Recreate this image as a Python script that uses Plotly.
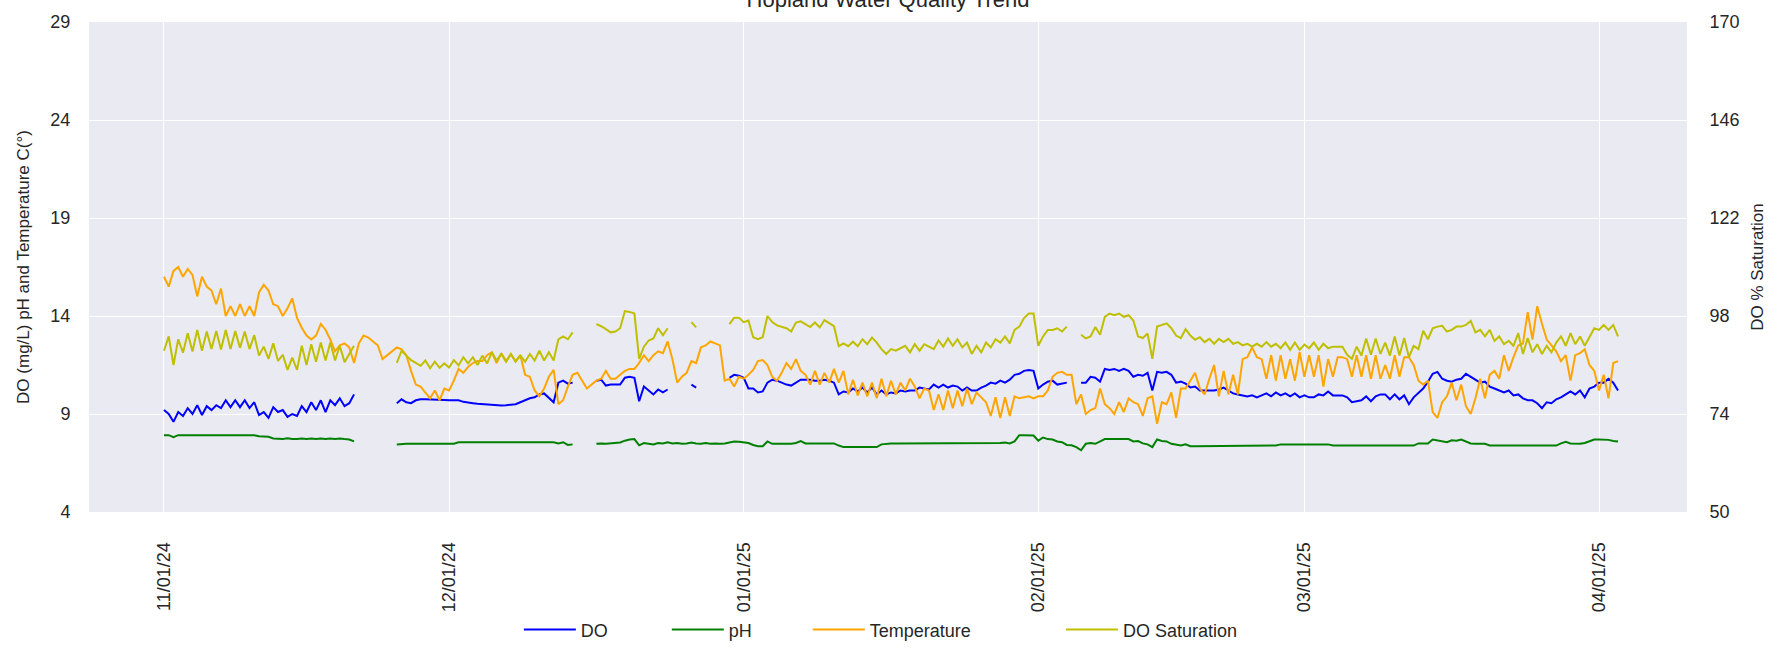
import plotly.graph_objects as go
import pandas as pd

N = None

# 12-hourly readings starting 2024-11-01 00:00 (two values per day, rows of 5 days)
temperature = [
    16.0, 15.5, 16.3, 16.5, 16.0, 16.4, 16.1, 15.0, 16.0, 15.5,
    15.3, 14.6, 15.4, 14.0, 14.5, 14.0, 14.6, 14.0, 14.5, 14.0,
    15.2, 15.6, 15.3, 14.6, 14.5, 14.0, 14.4, 14.9, 13.9, 13.4,
    13.0, 12.8, 13.0, 13.6, 13.3, 12.8, 12.2, 12.5, 12.6, 12.4,
    11.6, 12.6, 13.0, 12.9, 12.7, 12.5, 11.8, 12.0, 12.2, 12.4,
    12.3, 12.0, 11.2, 10.5, 10.4, 10.1, 9.8, 10.2, 9.7, 10.3,
    10.2, 10.7, 11.3, 11.1, 11.4, 11.6, 11.7, 11.7, 12.0, 12.15,
    11.6, 12.1, 11.7, 12.05, 11.7, 12.0, 11.0, 10.9, 10.2, 9.9,
    10.3, 10.9, 11.25, 9.5, 9.7, 10.4, 11.0, 11.1, 10.7, 10.3,
    10.5, 10.7, 10.8, 11.2, 10.8, 10.8, 11.0, 11.2, 11.3, 11.3,
    11.6, 12.0, 11.7, 12.0, 12.2, 12.1, 12.7, 11.8, 10.6, 10.9,
    11.1, 11.7, 11.6, 12.4, 12.5, 12.7, 12.6, 12.5, 10.7, 10.8,
    10.4, 10.9, 10.8, 11.0, 11.25, 11.7, 11.75, 11.5, 10.9, 10.7,
    11.1, 11.6, 11.3, 11.8, 11.2, 11.0, 10.5, 11.2, 10.5, 11.1,
    10.6, 11.3, 10.6, 11.2, 10.0, 10.75, 9.95, 10.6, 9.9, 10.6,
    9.8, 10.8, 9.9, 10.7, 10.0, 10.6, 10.2, 10.8, 10.4, 9.8,
    10.3, 10.2, 9.2, 10.0, 9.2, 10.2, 9.3, 10.2, 9.4, 10.3,
    9.5, 10.1, 9.85, 9.6, 8.9, 9.85, 8.8, 9.85, 8.9, 9.9,
    9.8, 9.85, 9.9, 9.8, 9.9, 9.9, 10.2, 10.9, 11.1, 11.15,
    11.0, 11.0, 9.5, 10.0, 9.0, 9.2, 9.3, 10.3, 9.5, 9.3,
    9.0, 9.6, 9.1, 9.8, 9.6, 9.5, 8.9, 9.8, 9.9, 8.5,
    9.6, 9.5, 10.1, 8.8, 10.3, 10.3, 10.7, 11.1, 10.3, 10.0,
    10.8, 11.5, 9.9, 11.2, 10.0, 11.0, 10.0, 11.8, 11.9, 12.4,
    11.9, 11.8, 10.8, 12.0, 10.7, 12.0, 10.8, 11.8, 10.7, 12.15,
    10.9, 12.0, 10.9, 12.0, 10.4, 11.8, 10.9, 11.9, 11.9, 11.8,
    10.9, 12.0, 10.9, 12.0, 10.8, 12.0, 10.8, 11.5, 10.8, 12.0,
    10.9, 11.9, 11.9, 11.5, 10.7, 10.5, 10.7, 9.1, 8.8, 9.6,
    9.9, 10.6, 9.7, 10.5, 9.4, 9.0, 9.8, 10.8, 9.8, 11.0,
    11.2, 10.8, 12.0, 11.2, 11.9, 12.5, 12.6, 14.2, 12.8, 14.5,
    13.6, 12.8, 12.5, 12.2, 11.7, 12.0, 10.7, 12.0, 12.1, 12.3,
    11.5, 11.2, 10.2, 11.0, 9.8, 11.6, 11.7,
]

do_mgl = [
    9.2, 9.0, 8.6, 9.1, 8.9, 9.3, 9.0, 9.45, 8.95, 9.4,
    9.2, 9.45, 9.3, 9.7, 9.35, 9.7, 9.35, 9.7, 9.3, 9.6,
    8.95, 9.1, 8.8, 9.35, 9.1, 9.2, 8.85, 9.0, 8.9, 9.4,
    9.1, 9.6, 9.2, 9.7, 9.1, 9.7, 9.45, 9.8, 9.4, 9.55,
    10.0, N, N, N, N, N, N, N, N, 9.55,
    9.75, 9.6, 9.55, 9.7, 9.75, 9.75, 9.75, 9.75, 9.75, 9.72,
    9.7, 9.7, 9.7, 9.62, 9.6, 9.55, 9.52, 9.5, 9.48, 9.45,
    9.45, 9.44, 9.45, 9.47, 9.5, 9.6, 9.72, 9.8, 9.85, 10.0,
    10.05, 9.85, 9.6, 10.6, 10.7, 10.55, 10.6, N, N, N,
    N, 10.7, 10.75, 10.45, 10.5, 10.5, 10.5, 10.85, 10.9, 10.85,
    9.65, 10.4, 10.2, 10.0, 10.25, 10.1, 10.25, N, N, N,
    N, 10.5, 10.35, N, N, N, N, N, N, 10.84,
    11.0, 10.95, 10.85, 10.3, 10.3, 10.1, 10.15, 10.6, 10.75, 10.7,
    10.6, 10.5, 10.45, 10.6, 10.75, 10.75, 10.75, 10.7, 10.7, 10.75,
    10.7, 10.6, 10.0, 10.15, 10.1, 10.3, 10.15, 10.35, 10.1, 10.35,
    10.0, 10.2, 10.0, 10.1, 10.05, 10.2, 10.15, 10.2, 10.2, 10.35,
    10.3, 10.25, 10.5, 10.35, 10.5, 10.35, 10.45, 10.4, 10.2, 10.35,
    10.2, 10.2, 10.35, 10.45, 10.6, 10.55, 10.7, 10.6, 10.75, 11.0,
    11.05, 11.2, 11.25, 11.2, 10.3, 10.5, 10.65, 10.7, 10.5, 10.55,
    10.6, N, N, 10.6, 10.6, 10.9, 10.85, 10.65, 11.3, 11.25,
    11.3, 11.2, 11.3, 11.2, 10.9, 11.0, 10.95, 11.1, 10.2, 11.15,
    11.1, 11.15, 11.0, 10.6, 10.65, 10.55, 10.35, 10.4, 10.2, 10.2,
    10.2, 10.2, 10.25, 10.35, 10.2, 10.05, 10.0, 9.95, 9.9, 9.95,
    9.85, 9.95, 10.05, 9.9, 10.1, 9.95, 10.05, 9.9, 10.05, 9.85,
    9.95, 9.85, 9.85, 10.0, 9.95, 10.15, 9.95, 9.95, 9.95, 9.85,
    9.6, 9.65, 9.7, 9.9, 9.65, 9.9, 10.0, 10.0, 9.75, 10.0,
    9.75, 9.95, 9.5, 9.85, 10.1, 10.3, 10.65, 11.05, 11.15, 10.8,
    10.7, 10.65, 10.75, 10.8, 11.05, 10.9, 10.75, 10.6, 10.65, 10.4,
    10.3, 10.2, 10.1, 10.2, 9.95, 10.0, 9.8, 9.7, 9.7, 9.55,
    9.3, 9.6, 9.55, 9.75, 9.85, 10.0, 10.15, 10.0, 10.2, 9.85,
    10.3, 10.4, 10.6, 10.6, 10.8, 10.6, 10.2,
]

ph = [
    7.92, 7.92, 7.82, 7.92, 7.92, 7.92, 7.92, 7.92, 7.92, 7.92,
    7.92, 7.92, 7.92, 7.92, 7.92, 7.92, 7.95, 7.92, 7.92, 7.92,
    7.86, 7.85, 7.84, 7.75, 7.74, 7.72, 7.76, 7.72, 7.72, 7.75,
    7.72, 7.75, 7.72, 7.75, 7.72, 7.75, 7.72, 7.75, 7.72, 7.7,
    7.6, N, N, N, N, N, N, N, N, 7.45,
    7.48, 7.48, 7.48, 7.48, 7.48, 7.48, 7.48, 7.48, 7.48, 7.48,
    7.48, 7.48, 7.56, 7.56, 7.56, 7.56, 7.56, 7.56, 7.56, 7.56,
    7.56, 7.56, 7.56, 7.56, 7.56, 7.56, 7.56, 7.56, 7.56, 7.56,
    7.56, 7.56, 7.56, 7.5, 7.56, 7.42, 7.45, N, N, N,
    N, 7.48, 7.5, 7.48, 7.5, 7.52, 7.55, 7.64, 7.7, 7.72,
    7.4, 7.52, 7.5, 7.45, 7.52, 7.5, 7.56, 7.5, 7.52, 7.48,
    7.5, 7.54, 7.5, 7.48, 7.52, 7.48, 7.5, 7.48, 7.5, 7.56,
    7.6, 7.58, 7.56, 7.52, 7.42, 7.36, 7.36, 7.6, 7.48, 7.48,
    7.48, 7.48, 7.48, 7.52, 7.62, 7.5, 7.5, 7.5, 7.5, 7.5,
    7.5, 7.5, 7.39, 7.31, 7.31, 7.31, 7.31, 7.31, 7.31, 7.31,
    7.31, 7.45, 7.48, 7.5, 7.5, 7.5, 7.5, 7.5, 7.5, 7.5,
    7.5, 7.5, 7.5, 7.5, 7.5, 7.5, 7.5, 7.5, 7.5, 7.5,
    7.5, 7.5, 7.5, 7.5, 7.5, 7.5, 7.52, 7.55, 7.5, 7.6,
    7.92, 7.92, 7.92, 7.9, 7.64, 7.8, 7.72, 7.7, 7.6, 7.56,
    7.42, 7.4, 7.31, 7.15, 7.48, 7.52, 7.48, 7.6, 7.72, 7.72,
    7.72, 7.72, 7.72, 7.72, 7.6, 7.62, 7.5, 7.45, 7.31, 7.7,
    7.62, 7.6, 7.48, 7.42, 7.39, 7.45, 7.36, 7.36, 7.36, 7.36,
    7.36, 7.39, 7.39, 7.39, 7.39, 7.39, 7.39, 7.39, 7.39, 7.39,
    7.39, 7.39, 7.39, 7.39, 7.39, 7.45, 7.45, 7.45, 7.45, 7.45,
    7.45, 7.45, 7.45, 7.45, 7.45, 7.45, 7.39, 7.39, 7.39, 7.39,
    7.39, 7.39, 7.39, 7.39, 7.39, 7.39, 7.39, 7.39, 7.39, 7.39,
    7.39, 7.39, 7.39, 7.39, 7.5, 7.5, 7.5, 7.7, 7.66, 7.62,
    7.56, 7.66, 7.64, 7.7, 7.58, 7.5, 7.48, 7.48, 7.48, 7.39,
    7.39, 7.39, 7.39, 7.39, 7.39, 7.39, 7.39, 7.39, 7.39, 7.39,
    7.39, 7.39, 7.39, 7.39, 7.5, 7.58, 7.5, 7.48, 7.48, 7.52,
    7.6, 7.7, 7.7, 7.7, 7.68, 7.62, 7.6,
]

do_saturation = [
    89.5, 93.0, 86.0, 92.3, 89.0, 93.8, 89.3, 94.6, 89.5, 94.2,
    89.9, 94.3, 89.8, 94.6, 89.9, 94.3, 90.2, 94.2, 89.9, 93.3,
    88.3, 90.5, 87.5, 91.3, 87.0, 88.5, 84.8, 87.8, 84.8, 90.7,
    86.0, 91.1, 86.8, 91.5, 87.1, 91.5, 87.1, 90.7, 86.7, 88.6,
    90.7, N, N, N, N, N, N, N, N, 86.5,
    89.5, 88.3, 87.2, 86.5, 85.8, 87.1, 85.2, 86.8, 85.3, 86.4,
    85.4, 87.2, 85.9, 87.9, 86.4, 87.9, 86.0, 88.3, 86.4, 89.1,
    87.1, 88.7, 86.8, 88.7, 86.8, 88.3, 86.8, 88.7, 87.1, 89.5,
    87.1, 89.1, 87.1, 92.3, 93.0, 92.3, 94.0, N, N, N,
    N, 96.0, 95.5, 94.8, 94.0, 94.2, 95.0, 99.2, 99.0, 98.6,
    87.5, 90.5, 92.0, 92.5, 95.0, 93.3, 95.0, N, N, N,
    N, 96.5, 95.2, N, N, N, N, N, N, 96.0,
    97.6, 97.6, 96.5, 96.9, 92.8, 92.3, 92.8, 98.0, 96.5, 95.7,
    95.3, 95.0, 94.2, 96.4, 96.7, 96.0, 95.3, 96.4, 95.2, 97.0,
    96.2, 95.5, 90.6, 91.3, 90.6, 91.7, 90.6, 92.3, 91.1, 92.7,
    91.5, 89.9, 88.7, 89.9, 89.5, 90.2, 90.7, 89.1, 91.1, 89.5,
    91.1, 90.5, 89.9, 92.0, 90.5, 92.5, 90.7, 92.3, 90.3, 91.5,
    88.7, 90.7, 89.1, 91.5, 90.3, 92.3, 91.5, 93.0, 91.3, 94.6,
    95.4, 97.5, 98.6, 98.6, 90.7, 93.0, 94.6, 94.6, 95.0, 94.2,
    95.4, N, N, 93.4, 92.5, 93.0, 95.3, 93.4, 97.8, 98.6,
    98.2, 98.6, 97.8, 98.2, 96.9, 93.0, 92.6, 93.7, 87.5, 95.4,
    95.8, 96.2, 95.0, 93.2, 92.6, 94.8, 93.2, 92.2, 92.8, 91.6,
    92.4, 91.2, 92.4, 91.6, 92.4, 91.2, 91.6, 90.8, 91.2, 90.5,
    91.2, 90.5, 91.6, 90.5, 91.2, 90.1, 91.5, 89.7, 91.5, 89.7,
    91.0, 90.1, 91.5, 89.7, 91.2, 90.1, 90.5, 90.5, 90.5, 88.5,
    87.5, 90.5, 88.3, 92.5, 88.5, 92.5, 88.7, 91.5, 88.3, 93.0,
    88.3, 92.6, 87.9, 90.7, 89.9, 94.4, 92.3, 95.0, 95.4, 95.6,
    94.2, 94.6, 95.4, 95.4, 95.8, 96.8, 94.0, 94.6, 93.0, 94.6,
    91.9, 93.0, 91.1, 91.9, 90.7, 93.8, 88.7, 92.6, 89.1, 91.1,
    88.7, 90.7, 89.1, 91.5, 93.0, 90.7, 93.8, 91.1, 93.0, 90.7,
    93.0, 95.0, 94.6, 95.8, 94.6, 95.8, 93.0,
]

assert len(temperature) == len(do_mgl) == len(ph) == len(do_saturation)

timestamps = pd.date_range("2024-11-01 00:00", periods=len(temperature), freq="12h")

left_ticks = [4, 9, 14, 19, 24, 29]
right_ticks = [50, 74, 98, 122, 146, 170]
month_ticks = ["2024-11-01", "2024-12-01", "2025-01-01", "2025-02-01", "2025-03-01", "2025-04-01"]

series_names = ["DO", "pH", "Temperature", "DO Saturation"]
series_colors = ["#0000ff", "#008000", "#ffa500", "#bfbf00"]

TXT = "#262626"
FONT = "Liberation Sans, Arial, sans-serif"

fig = go.Figure()
fig.add_trace(go.Scatter(x=timestamps, y=do_mgl, name=series_names[0], mode="lines",
                         line=dict(color=series_colors[0], width=2), legend="legend",
                         showlegend=True))
fig.add_trace(go.Scatter(x=timestamps, y=ph, name=series_names[1], mode="lines",
                         line=dict(color=series_colors[1], width=2), legend="legend2",
                         showlegend=True))
fig.add_trace(go.Scatter(x=timestamps, y=temperature, name=series_names[2], mode="lines",
                         line=dict(color=series_colors[2], width=2), legend="legend3",
                         showlegend=True))
fig.add_trace(go.Scatter(x=timestamps, y=do_saturation, name=series_names[3], mode="lines",
                         line=dict(color=series_colors[3], width=2), yaxis="y2", legend="legend4",
                         showlegend=True))

leg_common = dict(orientation="h", yanchor="middle", y=-0.2406, xanchor="left",
                  font=dict(size=18, color=TXT, family=FONT), itemwidth=52,
                  bgcolor="rgba(0,0,0,0)")

fig.update_layout(
    width=1787, height=660,
    showlegend=True,
    margin=dict(l=89, r=100, t=18, b=139),
    paper_bgcolor="white",
    plot_bgcolor="#EAEAF2",
    font=dict(family=FONT, color=TXT, size=18),
    title=dict(text="Hopland Water Quality Trend", x=0.5, xref="paper", xanchor="center",
               y=0.989, yref="container", yanchor="bottom",
               font=dict(size=22, color=TXT, family=FONT)),
    xaxis=dict(
        type="date",
        range=["2024-10-24 02:40", "2025-04-10 06:14"],
        tickvals=month_ticks, tickformat="%m/%d/%y", tickangle=-90,
        showgrid=True, gridcolor="white", gridwidth=1.3, zeroline=False,
        ticks="outside", ticklen=22, tickcolor="rgba(0,0,0,0)",
        tickfont=dict(size=18, color=TXT), showline=False,
    ),
    yaxis=dict(
        range=[4, 29], tickvals=left_ticks,
        showgrid=True, gridcolor="white", gridwidth=1.3, zeroline=False,
        ticks="outside", ticklen=14, tickcolor="rgba(0,0,0,0)",
        tickfont=dict(size=18, color=TXT),
        title=dict(text="DO (mg/L) pH and Temperature C(°)", standoff=16,
                   font=dict(size=17, color=TXT)),
    ),
    yaxis2=dict(
        range=[50, 170], tickvals=right_ticks, overlaying="y", side="right",
        showgrid=False, zeroline=False,
        ticks="outside", ticklen=18, tickcolor="rgba(0,0,0,0)",
        tickfont=dict(size=18, color=TXT),
        title=dict(text="DO % Saturation", standoff=12, font=dict(size=17, color=TXT)),
    ),
    legend=dict(leg_common, x=0.2690),
    legend2=dict(leg_common, x=0.3616),
    legend3=dict(leg_common, x=0.4498),
    legend4=dict(leg_common, x=0.6082),
)

fig.write_html("out.html", config={"displayModeBar": False},
               post_script="document.body.style.margin='0';document.body.style.overflow='hidden';")
